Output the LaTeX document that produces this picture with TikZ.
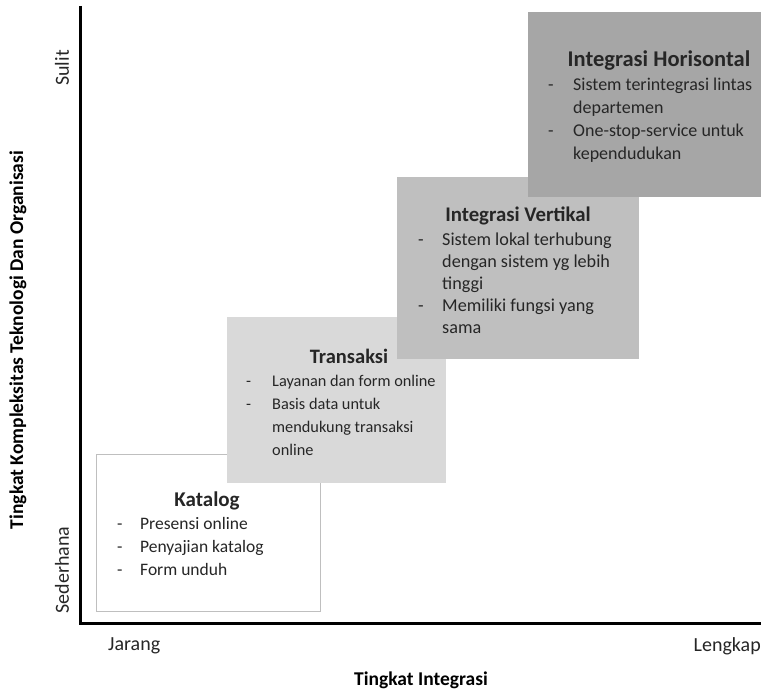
\documentclass[tikz,border=0pt]{standalone}
\usepackage{fontspec}
\setmainfont{Carlito}
\usepackage{array}
\definecolor{txt}{HTML}{262626}
\definecolor{fillB}{HTML}{D9D9D9}
\definecolor{fillC}{HTML}{BFBFBF}
\definecolor{fillD}{HTML}{A6A6A6}
\begin{document}
\begin{tikzpicture}[x=1pt,y=-1pt,
  stage/.style={rectangle, anchor=north west, inner sep=0pt, outer sep=0pt},
  ttl/.style={anchor=base, inner sep=0pt, text=txt, font=\fontsize{#1}{24}\selectfont\bfseries},
  lst/.style={anchor=base west, inner sep=0pt, text=txt},
  axlbl/.style={inner sep=0pt, text=txt, font=\fontsize{20}{22}\selectfont},
  axttl/.style={inner sep=0pt, text=black, font=\fontsize{19.5}{22}\selectfont\bfseries},
  axis/.style={line width=3pt, black}
]
\useasboundingbox (0,0) rectangle (761,695);

% stage boxes
\node[stage, fill=white, draw=black!25, line width=1pt, minimum width=224pt, minimum height=157pt] (kat) at (96,454) {};
\node[stage, fill=fillB, minimum width=219pt, minimum height=166pt] (tra) at (227,317) {};
\node[stage, fill=fillC, minimum width=242pt, minimum height=182pt] (ver) at (397,177) {};
\node[stage, fill=fillD, minimum width=233pt, minimum height=185pt] (hor) at (528,12) {};

% Katalog
\node[ttl=21] (katT) at (207,506) {Katalog};
\node[lst, font=\fontsize{17.5}{23}\selectfont] (katL) at (117,529) {\begin{tabular}[t]{@{}p{23pt}@{}l@{}}
- & Presensi online\\
- & Penyajian katalog\\
- & Form unduh
\end{tabular}};

% Transaksi
\node[ttl=20.5] (traT) at (349,363) {Transaksi};
\node[lst, font=\fontsize{16.3}{23}\selectfont] (traL) at (246,386) {\begin{tabular}[t]{@{}p{26pt}@{}l@{}}
- & Layanan dan form online\\
- & Basis data untuk\\
  & mendukung transaksi\\
  & online
\end{tabular}};

% Integrasi Vertikal
\node[ttl=20.8] (verT) at (518,222) {Integrasi Vertikal};
\node[lst, font=\fontsize{18.2}{22}\selectfont] (verL) at (418,246) {\begin{tabular}[t]{@{}p{24pt}@{}l@{}}
- & Sistem lokal terhubung\\
  & dengan sistem yg lebih\\
  & tinggi\\
- & Memiliki fungsi yang\\
  & sama
\end{tabular}};

% Integrasi Horisontal
\node[ttl=22.5] (horT) at (659,67) {Integrasi Horisontal};
\node[lst, font=\fontsize{18}{23}\selectfont] (horL) at (548,91) {\begin{tabular}[t]{@{}p{25pt}@{}l@{}}
- & Sistem terintegrasi lintas\\
  & departemen\\
- & One-stop-service untuk\\
  & kependudukan
\end{tabular}};

% axes
\coordinate (origin) at (80.5,623);
\coordinate (ytop) at (80.5,6);
\coordinate (xend) at (761,623);
\draw[axis] (ytop) -- (origin) -- (xend);

% axis labels
\node[axlbl, anchor=west] (jar) at (108,646) {Jarang};
\node[axlbl, anchor=east] (len) at (761,646) {Lengkap};
\node[axttl] (xt) at (421,680) {Tingkat Integrasi};
\node[axlbl, rotate=90] (sul) at (62,68) {Sulit};
\node[axlbl, rotate=90] (sed) at (62,570) {Sederhana};
\node[axttl, rotate=90] (yt) at (18,340) {Tingkat Kompleksitas Teknologi Dan Organisasi};
\end{tikzpicture}
\end{document}
